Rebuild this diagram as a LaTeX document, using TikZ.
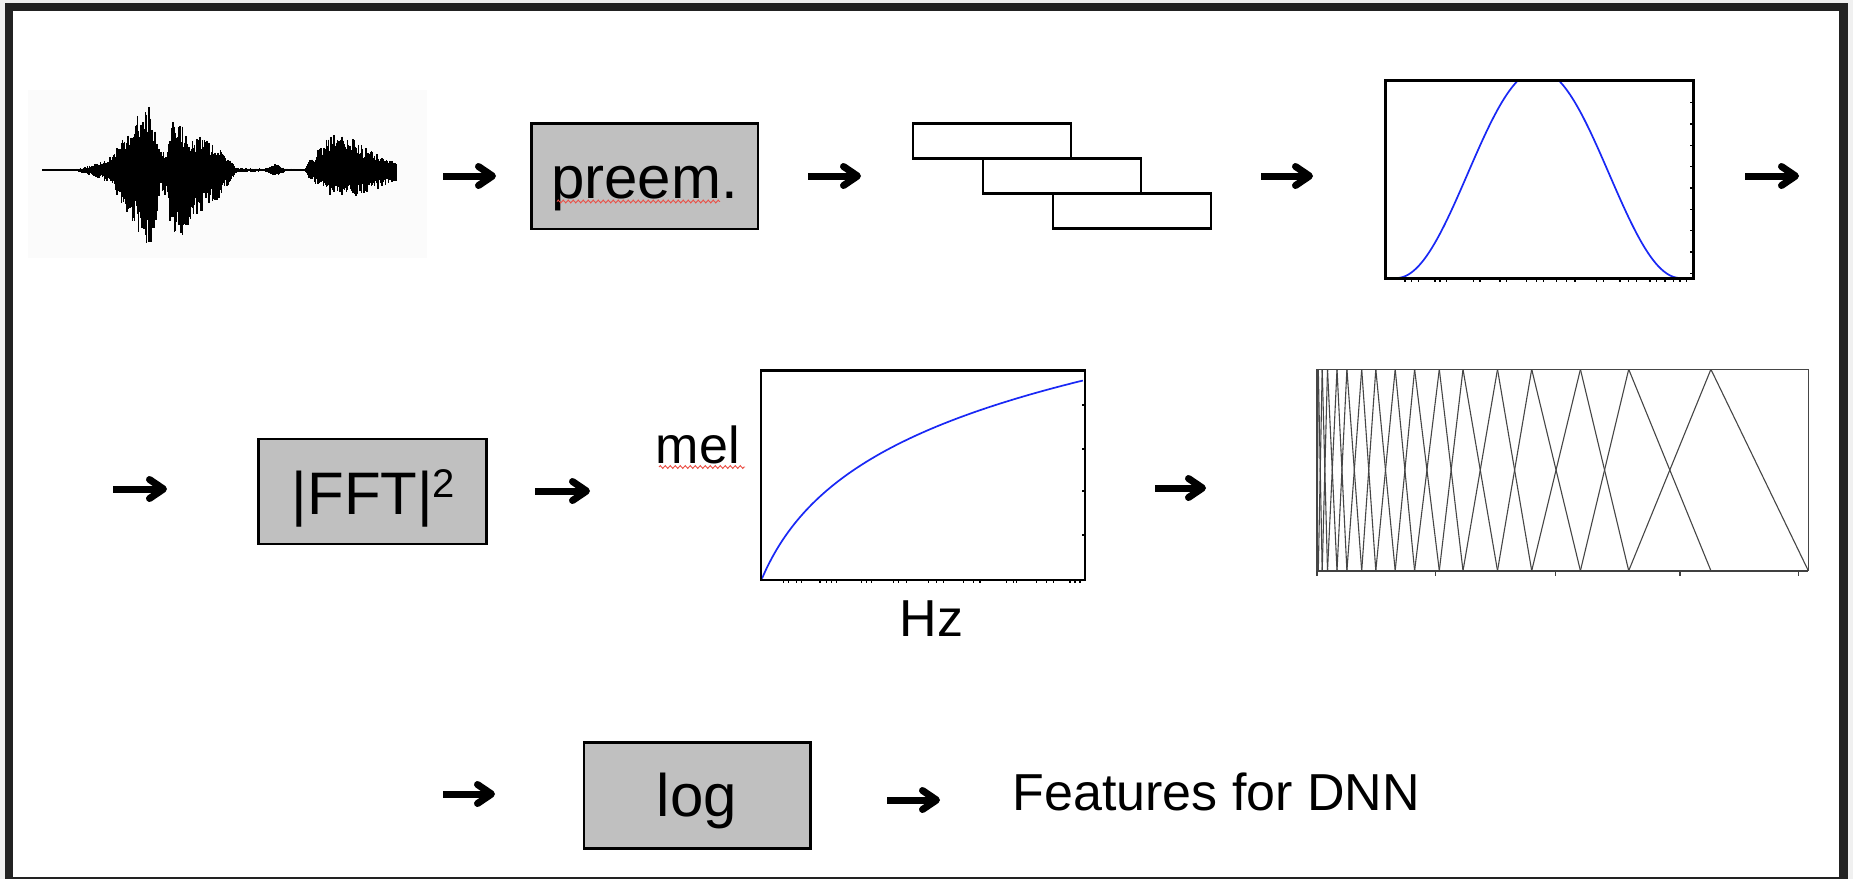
\documentclass[tikz,border=0pt]{standalone}
\usepackage{fontspec}
\setmainfont{Liberation Sans}
\usetikzlibrary{arrows.meta,decorations.pathmorphing}
\definecolor{boxgray}{RGB}{192,192,192}
\definecolor{framecol}{RGB}{34,34,34}
\definecolor{outbg}{RGB}{240,240,240}
\definecolor{curveblue}{RGB}{25,40,245}
\definecolor{fbgray}{RGB}{70,70,70}
\definecolor{wavebg}{RGB}{251,251,251}
\definecolor{squig}{RGB}{235,80,70}
\begin{document}
\begin{tikzpicture}[x=0.5pt,y=-0.5pt,
  procbox/.style={draw=black, fill=boxgray, line width=1.3pt, inner sep=0pt},
  boxtxt/.style={font=\fontsize{30pt}{36pt}\selectfont, anchor=base, inner sep=0pt},
  lbl/.style={font=\fontsize{26pt}{31pt}\selectfont, inner sep=0pt, anchor=base west},
  flow/.style={line width=3.5pt, -{Straight Barb[length=7pt,width=9.5pt,round]}},
  winframe/.style={draw=black, fill=white, line width=1.4pt, minimum width=79pt, minimum height=17.5pt, inner sep=0pt},
  plotbox/.style={draw=black, line width=1.35pt},
  tick/.style={black, line width=0.7pt},
  fbline/.style={fbgray, line width=0.55pt},
  wave/.style={black, line width=0.75pt},
  squiggle/.style={squig, line width=0.45pt, decorate, decoration={zigzag, segment length=2.5pt, amplitude=0.7pt}}
]
\useasboundingbox (0,0) rectangle (1853,879);
% outer frame
\fill[outbg] (0,0) rectangle (1853,879);
\fill[framecol] (5,3) rectangle (1848,879);
\fill[white] (12.7,11) rectangle (1839,877);

% ---------- row 1 ----------
% waveform
\fill[wavebg] (28,90) rectangle (427,258);
\draw[black, line width=0.6pt] (42,170) -- (396,170);
\pgfmathsetseed{7}
\foreach \xa/\ua/\da/\xb/\ub/\db in {42/0.5/0.5/75/1/1, 75/1/1/83/2/3, 83/2/3/110/13/12, 110/13/12/128/38/47, 128/38/47/143/62/65, 143/62/65/150/66/78, 150/66/78/155/40/55, 155/40/55/160/17/17, 160/17/17/168/20/30, 168/20/30/172/48/70, 172/48/70/180/48/70, 180/48/70/187/30/55, 187/30/55/200/33/42, 200/33/42/207/28/37, 207/28/37/217/23/30, 217/23/30/230/10/12, 230/10/12/237/2/2, 237/2/2/265/1.5/1.5, 265/1.5/1.5/275/7/8, 275/7/8/285/1.5/1.5, 285/1.5/1.5/305/1/1, 305/1/1/310/10/10, 310/10/10/320/22/18, 320/22/18/333/37/27, 333/37/27/340/37/27, 340/37/27/353/30/26, 353/30/26/367/20/22, 367/20/22/393/9/12, 393/9/12/396/7/10}
{
  \pgfmathtruncatemacro\n{max(1,round((\xb-\xa)/1.1))}
  \foreach \k in {1,...,\n}{
    \pgfmathsetmacro\t{\k/\n}
    \pgfmathsetmacro\xx{\xa+\t*(\xb-\xa)}
    \pgfmathsetmacro\uu{(\ua+\t*(\ub-\ua))*(0.55+0.5*rnd)}
    \pgfmathsetmacro\dd{(\da+\t*(\db-\da))*(0.55+0.5*rnd)}
    \draw[wave] (\xx,170-\uu) -- (\xx,170+\dd);
  }
}

\coordinate (a1s) at (443,176); \coordinate (a1e) at (496,176);
\draw[flow] (a1s) -- (a1e);

\node[procbox, minimum width=113.25pt, minimum height=52.85pt] (preem) at (644.75,176.1) {};
\node[boxtxt] (preemtxt) at (644.5,198) {preem.};
\draw[squiggle] (557,201.5) -- (720,201.5);

\coordinate (a2s) at (808,176); \coordinate (a2e) at (861,176);
\draw[flow] (a2s) -- (a2e);

\node[winframe] (fr1) at (992,141) {};
\node[winframe] (fr2) at (1062,176) {};
\node[winframe] (fr3) at (1132,211) {};

\coordinate (a3s) at (1261,176); \coordinate (a3e) at (1313,176);
\draw[flow] (a3s) -- (a3e);

% window plot
\fill[white] (1385.7,80.7) rectangle (1693.3,278.3);
\begin{scope}
\clip (1385.7,80.7) rectangle (1693.3,278.3);
\draw[curveblue, line width=0.85pt] plot[domain=0:1, samples=90, smooth] ({1396.7+283.3*\x}, {278-208*0.5*(1-cos(360*\x))});
\end{scope}
\foreach \yy in {102.7,124,145.3,166.6,188,209.3,230.6,252,273.3}
  \draw[tick] (1693.3,\yy) -- (1689.5,\yy);
\foreach \xx in {1405,1411.7,1418.3,1435,1440,1446.7,1473.3,1480,1500,1506.7,1526.7,1536.7,1543.3,1556.7,1566.7,1575,1596.7,1603.3,1620,1628.3,1636.7,1650,1656.7,1665,1673.3,1680,1686.7}
  \draw[tick] (\xx,278.3) -- (\xx,281.5);
\draw[plotbox] (1385.7,80.7) rectangle (1693.3,278.3);

\coordinate (a4s) at (1745,176); \coordinate (a4e) at (1799,176);
\draw[flow] (a4s) -- (a4e);

% ---------- row 2 ----------
\coordinate (a5s) at (113,489); \coordinate (a5e) at (167,489);
\draw[flow] (a5s) -- (a5e);

\node[procbox, minimum width=114.2pt, minimum height=52.5pt] (fft) at (372.5,491.5) {};
\node[boxtxt] (ffttxt) at (373.5,514.3) {|FFT|{\fontsize{20pt}{20pt}\selectfont\raisebox{8.5pt}{2}}};

\coordinate (a6s) at (535,491); \coordinate (a6e) at (590,491);
\draw[flow] (a6s) -- (a6e);

% mel plot
\node[lbl] (mel) at (655.5,463.3) {mel};
\draw[squiggle] (659,467) -- (745,467);
\node[lbl] (hz) at (899.5,636) {Hz};
\begin{scope}
\clip (761,370.7) rectangle (1085,580);
\draw[curveblue, line width=0.85pt] plot[domain=0:1, samples=90, smooth] ({762+321*\x}, {578.5-198*ln(1+8.571*\x)/ln(9.571)});
\end{scope}
\foreach \yy in {405,449,491,535}
  \draw[tick] (1085,\yy) -- (1081.5,\yy);
\foreach \xx in {783.3,788.3,796.7,801.7,820,826.7,831.7,836.7,861.7,866.7,871.7,893.3,898.3,906.7,928.3,936.7,943.3,963.3,973.3,980,1006.7,1013.3,1016.7,1036.7,1046.7,1053.3,1070,1075,1080}
  \draw[tick] (\xx,580) -- (\xx,583.2);
\draw[plotbox] (761,370.7) rectangle (1085,580);

\coordinate (a7s) at (1155,488); \coordinate (a7e) at (1206,488);
\draw[flow] (a7s) -- (a7e);

% mel filterbank
\draw[fbline] (1317,369.3) rectangle (1808.3,570.7);
\def\fbt{369.3}\def\fbb{570.7}
\draw[fbline] (1316.9,\fbb) -- (1318.3,\fbt);
\foreach \a/\b in {1318.3/1322.2,1322.2/1327.5,1327.5/1337.0,1337.0/1346.9,1346.9/1361.7,1361.7/1375.8,1375.8/1395.2,1395.2/1414.6,1414.6/1439.3,1439.3/1463.0,1463.0/1497.5,1497.5/1531.7,1531.7/1580.4,1580.4/1628.7,1628.7/1710.9}{
  \draw[fbline] (\a,\fbb) -- (\b,\fbt);
  \draw[fbline] (\a,\fbt) -- (\b,\fbb);
}
\draw[fbline] (1710.9,\fbt) -- (1808.3,\fbb);
\draw[black!75, line width=0.8pt] (1317,\fbb) -- (1808.3,\fbb);
\foreach \xx in {1317,1435.8,1555.7,1679.9,1798.4}
  \draw[black!75, line width=0.6pt] (\xx,\fbb) -- (\xx,575.5);

% ---------- row 3 ----------
\coordinate (a8s) at (443,794); \coordinate (a8e) at (495,794);
\draw[flow] (a8s) -- (a8e);

\node[procbox, minimum width=113.25pt, minimum height=52.8pt] (log) at (697.25,795.5) {};
\node[boxtxt] (logtxt) at (697,816.7) {log};

\coordinate (a9s) at (887,800); \coordinate (a9e) at (940,800);
\draw[flow] (a9s) -- (a9e);

\node[lbl] (feat) at (1012,810) {Features for DNN};
\end{tikzpicture}
\end{document}
